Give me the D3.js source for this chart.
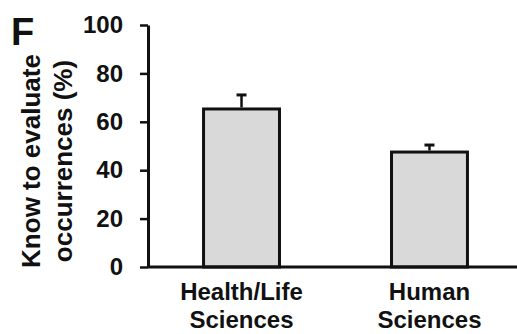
<html>
<head>
  <script src='https://d3js.org/d3.v7.min.js'></script>
  <style>
    body { margin: 0; background: #fff; }
    text { font-family: 'Liberation Sans', Arial, sans-serif; font-weight: bold; fill: #111; }
  </style>
</head>
<body>
  <script>

    var categories = [['Health/Life', 'Sciences'], ['Human', 'Sciences']];
    var values = [65.3, 47.5];
    var errors = [5.8, 2.9];
    var yTicks = [0, 20, 40, 60, 80, 100];

    var width = 517,
        height = 334;

    var svg = d3.select('body')
      .append('svg')
      .attr('width', width)
      .attr('height', height);

    var x = d3.scaleBand()
      .domain([0, 1])
      .range([148, 523])
      .paddingInner(0.596)
      .paddingOuter(0.2955);

    var y = d3.scaleLinear()
      .domain([0, 100])
      .range([267, 25]);

    // bars
    svg.selectAll('rect.bar')
      .data(values)
      .enter()
      .append('rect')
      .attr('class', 'bar')
      .attr('x', (d, i) => x(i))
      .attr('y', (d) => y(d))
      .attr('width', x.bandwidth())
      .attr('height', (d) => y(0) - y(d))
      .attr('fill', '#d9d9d9')
      .attr('stroke', '#111')
      .attr('stroke-width', 3);

    // error bars (upper only)
    var err = svg.append('g');
    err.selectAll('line.stem')
      .data(values)
      .enter()
      .append('line')
      .attr('x1', (d, i) => x(i) + x.bandwidth() / 2)
      .attr('x2', (d, i) => x(i) + x.bandwidth() / 2)
      .attr('y1', (d) => y(d) - 1.5)
      .attr('y2', (d, i) => y(d + errors[i]))
      .attr('stroke', '#111')
      .attr('stroke-width', 2.5);
    err.selectAll('line.cap')
      .data(values)
      .enter()
      .append('line')
      .attr('x1', (d, i) => x(i) + x.bandwidth() / 2 - 5)
      .attr('x2', (d, i) => x(i) + x.bandwidth() / 2 + 5)
      .attr('y1', (d, i) => y(d + errors[i]))
      .attr('y2', (d, i) => y(d + errors[i]))
      .attr('stroke', '#111')
      .attr('stroke-width', 3);

    // y axis
    var yAxis = svg.append('g')
      .attr('transform', 'translate(148,0)')
      .call(d3.axisLeft(y).tickValues(yTicks).tickSize(8).tickPadding(17).tickSizeOuter(0));
    yAxis.select('.domain').attr('stroke', '#111').attr('stroke-width', 3);
    yAxis.selectAll('.tick line').attr('stroke', '#111').attr('stroke-width', 2.5);
    yAxis.selectAll('.tick text')
      .style('font-size', '24px')
      .style('font-family', "'Liberation Sans', Arial, sans-serif")
      .style('font-weight', 'bold')
      .attr('fill', '#111');

    // x axis line
    svg.append('line')
      .attr('x1', 148).attr('x2', width)
      .attr('y1', y(0)).attr('y2', y(0))
      .attr('stroke', '#111')
      .attr('stroke-width', 3);

    // x labels
    var xl = svg.append('g');
    categories.forEach(function(c, i) {
      var t = xl.append('text')
        .attr('text-anchor', 'middle')
        .style('font-size', '24px');
      c.forEach(function(s, j) {
        t.append('tspan')
          .attr('x', x(i) + x.bandwidth() / 2)
          .attr('y', 300 + j * 28)
          .text(s);
      });
    });

    // y label
    var yl = svg.append('text')
      .attr('text-anchor', 'middle')
      .attr('transform', 'translate(0,161) rotate(-90)')
      .style('font-size', '26px');
    yl.append('tspan').attr('x', 0).attr('y', 40).text('Know to evaluate');
    yl.append('tspan').attr('x', 0).attr('y', 72).text('occurrences (%)');

    // panel letter
    svg.append('text')
      .attr('x', 11)
      .attr('y', 45)
      .style('font-size', '38px')
      .text('F');

  </script>
</body>
</html>
